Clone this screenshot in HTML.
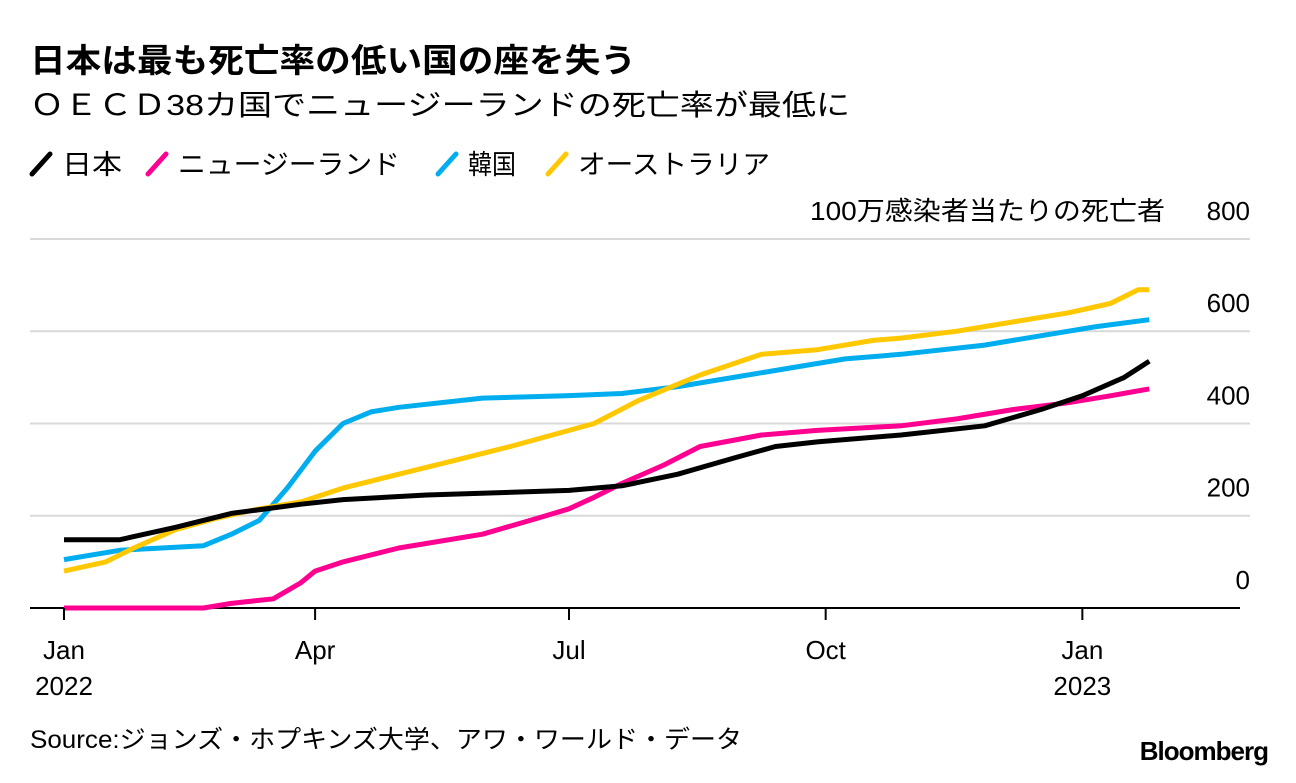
<!DOCTYPE html>
<html><head><meta charset="utf-8"><style>
body{margin:0;background:#fff;width:1296px;height:778px;overflow:hidden;font-family:"Liberation Sans","Noto Sans CJK JP",sans-serif;}
</style></head><body>
<svg width="1296" height="778" xmlns="http://www.w3.org/2000/svg" font-family="Liberation Sans, Noto Sans CJK JP, sans-serif">
<text x="30" y="72" font-size="33" font-weight="bold" fill="#000" textLength="606" lengthAdjust="spacingAndGlyphs">日本は最も死亡率の低い国の座を失う</text>
<text x="30" y="115" font-size="29" fill="#000" textLength="820" lengthAdjust="spacingAndGlyphs">ＯＥＣＤ38カ国でニュージーランドの死亡率が最低に</text>
<g id="legend" font-size="27"></g>
<text x="810" y="220" font-size="26" textLength="355" lengthAdjust="spacingAndGlyphs">100万感染者当たりの死亡者</text>
<g id="grid"></g>
<g id="series"></g>
<g id="xaxis" font-size="26"></g>
<text x="30" y="748" font-size="25" textLength="712" lengthAdjust="spacingAndGlyphs">Source:ジョンズ・ホプキンズ大学、アワ・ワールド・データ</text>
<text x="1268" y="760" font-size="26" font-weight="bold" text-anchor="end" letter-spacing="-1">Bloomberg</text>
</svg>
<script>
const yTicks=[0,200,400,600,800];
const xTickLabels=["Jan","Apr","Jul","Oct","Jan"];
const xTickDays=[0,90,181,273,365];
const xYearLabels=["2022","","","","2023"];
const seriesNames=["日本","ニュージーランド","韓国","オーストラリア"];
const seriesColors=["#000000","#ff0090","#00aeef","#ffc800"];
const japanDays=[0,20,40,60,85,100,130,181,200,220,240,255,270,300,330,350,365,380,389];
const japanVals=[148,148,175,205,225,235,245,255,265,290,325,350,360,375,395,430,460,500,535];
const nzDays=[0,50,60,75,85,90,100,120,150,170,181,190,200,215,228,250,270,300,320,340,360,375,389];
const nzVals=[0,0,10,20,55,80,100,130,160,195,215,240,270,310,350,375,385,395,410,430,445,460,475];
const koreaDays=[0,20,35,50,60,70,80,90,100,110,120,150,180,200,220,240,260,280,300,330,350,370,389];
const koreaVals=[105,125,130,135,160,190,260,340,400,425,435,455,460,465,480,500,520,540,550,570,590,610,625];
const ausDays=[0,15,25,40,55,70,85,100,120,140,160,181,190,206,228,250,270,290,300,320,340,360,375,385,389];
const ausVals=[80,100,130,170,195,215,230,260,290,320,350,385,400,450,505,550,560,580,585,600,620,640,660,690,690];
const NS="http://www.w3.org/2000/svg";
const x=d=>64+d*2.79;
const y=v=>608-v*0.4613;
function mk(t,a,p){const e=document.createElementNS(NS,t);for(const k in a)e.setAttribute(k,a[k]);p.appendChild(e);return e;}
const grid=document.getElementById('grid');
yTicks.forEach(v=>{
 if(v>0){const l=mk('line',{x1:30,x2:1250,y1:y(v),y2:y(v),stroke:'#d9d9d9','stroke-width':2},grid);
 
 }
 const t=mk('text',{x:1250,y:y(v)-19,'font-size':26,'text-anchor':'end'},grid);t.textContent=v;
 
 
});
const base=mk('line',{x1:30,x2:1240,y1:608,y2:608,stroke:'#000','stroke-width':2},grid);


const xa=document.getElementById('xaxis');
xTickDays.forEach((d,i)=>{
 const tk=mk('line',{x1:x(d),x2:x(d),y1:608,y2:620,stroke:'#000','stroke-width':2},xa);
 
 
 const t=mk('text',{x:x(d),y:659,'text-anchor':'middle'},xa);t.textContent=xTickLabels[i];
 
 
 if(xYearLabels[i]){const t2=mk('text',{x:x(d),y:695,'text-anchor':'middle'},xa);t2.textContent=xYearLabels[i];
 
 }
});
const sd=[[japanDays,japanVals],[nzDays,nzVals],[koreaDays,koreaVals],[ausDays,ausVals]];
const sg=document.getElementById('series');
[2,3,1,0].forEach(i=>{
 const [ds,vs]=sd[i];
 const pts=ds.map((d,j)=>x(d).toFixed(1)+','+y(vs[j]).toFixed(1)).join(' ');
 const p=mk('polyline',{points:pts,fill:'none',stroke:seriesColors[i],'stroke-width':5,'stroke-linejoin':'round'},sg);
 
 
});
const lg=document.getElementById('legend');
const lx=[32,148,438,548];
const lw=[60,222,48,192];
seriesNames.forEach((n,i)=>{
 const l=mk('line',{x1:lx[i],y1:174,x2:lx[i]+18,y2:154,stroke:seriesColors[i],'stroke-width':5,'stroke-linecap':'round'},lg);
 
 
 const t=mk('text',{x:lx[i]+30,y:174,textLength:lw[i],lengthAdjust:'spacingAndGlyphs'},lg);t.textContent=n;
 
 
});
</script>
</body></html>
